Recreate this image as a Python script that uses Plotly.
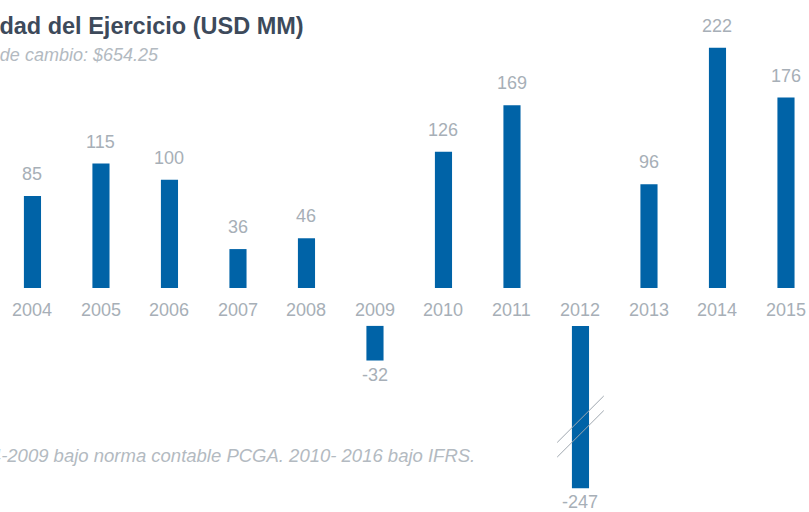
import plotly.graph_objects as go

# ---- data ----
years = [2004, 2005, 2006, 2007, 2008, 2009, 2010, 2011, 2012, 2013, 2014, 2015]
values = [85, 115, 100, 36, 46, -32, 126, 169, -247, 96, 222, 176]
year_labels = [str(y) for y in years]

title_text = "Utilidad del Ejercicio (USD MM)"
subtitle_text = "Tipo de cambio: $654.25"
note_text = "2004-2009 bajo norma contable PCGA. 2010- 2016 bajo IFRS."

# ---- style ----
BAR = "#0063A7"
GREY = "#A7AFB7"
TITLE = "#3D4A5B"
FONT = "Liberation Sans, Arial, sans-serif"
NEG_OFFSET = 35      # gap (axis units) between zero line and negative bars (room for year labels)
BREAK_CAP = 150      # displayed length of broken (truncated) negative bars
BAR_W = 0.25

pos_x = [y for y, v in zip(years, values) if v >= 0]
pos_y = [v for v in values if v >= 0]
neg_x = [y for y, v in zip(years, values) if v < 0]
neg_y = [max(v, -BREAK_CAP) for v in values if v < 0]

fig = go.Figure()
fig.add_trace(go.Bar(x=pos_x, y=pos_y, width=BAR_W, marker_color=BAR,
                     marker_line_width=0, hoverinfo="skip"))
fig.add_trace(go.Bar(x=neg_x, y=neg_y, base=[-NEG_OFFSET] * len(neg_x), width=BAR_W,
                     marker_color=BAR, marker_line_width=0, hoverinfo="skip"))

ann = []
for y, v in zip(years, values):
    if v >= 0:
        ann.append(dict(x=y, y=v, xref="x", yref="y", text=str(v), showarrow=False,
                        yanchor="middle", yshift=22,
                        font=dict(family=FONT, size=18, color=GREY)))
    else:
        bottom = -NEG_OFFSET + max(v, -BREAK_CAP)
        ann.append(dict(x=y, y=bottom, xref="x", yref="y", text=str(v), showarrow=False,
                        yanchor="middle", yshift=-14,
                        font=dict(family=FONT, size=18, color=GREY)))
for y, lab in zip(years, year_labels):
    ann.append(dict(x=y, y=0, xref="x", yref="y", text=lab, showarrow=False,
                    yanchor="middle", yshift=-22,
                    font=dict(family=FONT, size=18, color=GREY)))

ann.append(dict(x=0, y=1, xref="paper", yref="paper", xanchor="left", yanchor="middle",
                xshift=-47, yshift=-26, text="<b>" + title_text + "</b>", showarrow=False,
                font=dict(family=FONT, size=23.5, color=TITLE)))
ann.append(dict(x=0, y=1, xref="paper", yref="paper", xanchor="left", yanchor="middle",
                xshift=-42, yshift=-55, text="<i>" + subtitle_text + "</i>", showarrow=False,
                font=dict(family=FONT, size=18, color="#B3BAC1")))
ann.append(dict(x=0, y=0, xref="paper", yref="paper", xanchor="left", yanchor="middle",
                xshift=-43, yshift=57, text="<i>" + note_text + "</i>", showarrow=False,
                font=dict(family=FONT, size=18.5, color="#B3BAC1")))

# break marks on truncated bars
shapes = []
for y, v in zip(years, values):
    if v < -BREAK_CAP:
        for frac in (0.575, 0.665):
            cy = -NEG_OFFSET - BREAK_CAP * frac
            shapes.append(dict(type="line", xref="x", yref="y",
                               x0=y - 0.34, x1=y + 0.34, y0=cy - 21.5, y1=cy + 21.5,
                               line=dict(color="#A0A8B0", width=1)))

fig.update_layout(
    width=809, height=512,
    margin=dict(l=0, r=0, t=0, b=0),
    paper_bgcolor="white", plot_bgcolor="white",
    showlegend=False, barmode="overlay",
    xaxis=dict(range=[2003.526, 2015.336], visible=False, fixedrange=True),
    yaxis=dict(range=[-207.0, 266.2], visible=False, fixedrange=True),
    annotations=ann, shapes=shapes,
)

fig.write_html("out.html", config={"displayModeBar": False},
               post_script="document.body.style.margin='0';document.body.style.overflow='hidden';")
